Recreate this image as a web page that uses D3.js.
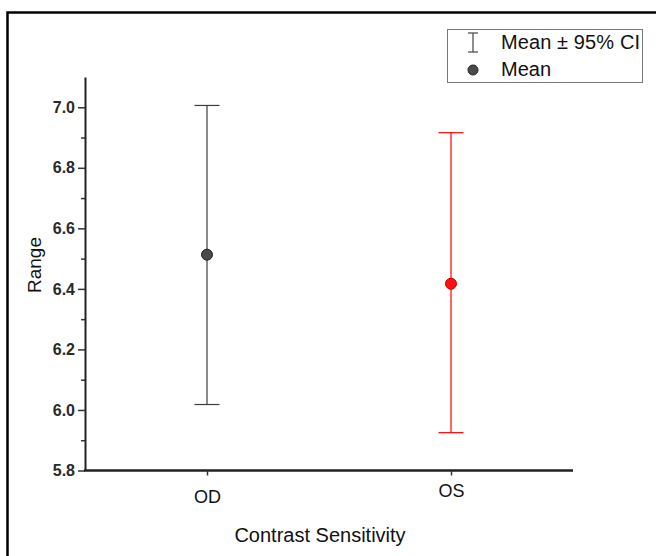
<!DOCTYPE html>
<html>
<head>
<meta charset="utf-8">
<script src="https://cdn.jsdelivr.net/npm/d3@7"></script>
<style>
  body { margin: 0; background: #fff; }
  text { font-family: "Liberation Sans", Arial, sans-serif; }
</style>
</head>
<body>
<div id="vis"></div>
<script>
// datos
const categories = ["OD", "OS"];
const means = [6.513, 6.417];
const upper = [7.006, 6.916];
const lower = [6.018, 5.925];
const colors = ["#3c3c3c", "#ff0000"];
const yTicks = [5.8, 6.0, 6.2, 6.4, 6.6, 6.8, 7.0];
const yMinorTicks = [5.9, 6.1, 6.3, 6.5, 6.7, 6.9];

const width = 656, height = 556;

const svg = d3.select("#vis").append("svg")
  .attr("width", width)
  .attr("height", height);

// marco exterior
svg.append("rect")
  .attr("x", 7.5).attr("y", 12.5)
  .attr("width", 700).attr("height", 600)
  .attr("fill", "none")
  .attr("stroke", "#000")
  .attr("stroke-width", 2.5);

const x = d3.scalePoint()
  .domain(categories)
  .range([85, 573])
  .padding(0.5);

const y = d3.scaleLinear()
  .domain([5.8, 7.1])
  .range([470.5, 77]);

// eje y menor
svg.append("g")
  .attr("transform", "translate(85,0)")
  .call(d3.axisLeft(y).tickValues(yMinorTicks).tickSize(4).tickFormat(""))
  .call(g => g.select(".domain").remove())
  .selectAll("line").attr("stroke", "#333").attr("stroke-width", 1.5);

// eje y
const yAxis = svg.append("g")
  .attr("transform", "translate(85,0)")
  .call(d3.axisLeft(y).tickValues(yTicks).tickSize(7).tickSizeOuter(0).tickPadding(3).tickFormat(d3.format(".1f")));
yAxis.select(".domain").attr("stroke", "#222").attr("stroke-width", 2);
yAxis.selectAll(".tick line").attr("stroke", "#333").attr("stroke-width", 1.5);
yAxis.selectAll("text")
  .attr("font-size", 16)
  .attr("font-weight", "bold")
  .attr("fill", "#2a2a2a");

// eje x
const xAxis = svg.append("g")
  .attr("transform", "translate(0,470.5)")
  .call(d3.axisBottom(x).tickSize(5).tickSizeOuter(0).tickPadding(12));
xAxis.select(".domain").attr("stroke", "#222").attr("stroke-width", 2.5)
  .attr("d", "M84,0H573");
xAxis.selectAll(".tick line").attr("stroke", "#333").attr("stroke-width", 1.5);
xAxis.selectAll("text")
  .attr("font-size", 18)
  .attr("fill", "#111")
  .attr("dy", (d, i) => i === 0 ? "0.85em" : "0.5em");

// barras de error
const capW = 12.5;
const bars = svg.append("g").selectAll("g")
  .data(categories)
  .enter().append("g");

bars.append("line")
  .attr("x1", d => x(d)).attr("x2", d => x(d))
  .attr("y1", (d, i) => y(upper[i]))
  .attr("y2", (d, i) => y(lower[i]))
  .attr("stroke", (d, i) => colors[i])
  .attr("stroke-width", 1.2);

bars.append("line")
  .attr("x1", d => x(d) - capW).attr("x2", d => x(d) + capW)
  .attr("y1", (d, i) => y(upper[i])).attr("y2", (d, i) => y(upper[i]))
  .attr("stroke", (d, i) => colors[i])
  .attr("stroke-width", 1.2);

bars.append("line")
  .attr("x1", d => x(d) - capW).attr("x2", d => x(d) + capW)
  .attr("y1", (d, i) => y(lower[i])).attr("y2", (d, i) => y(lower[i]))
  .attr("stroke", (d, i) => colors[i])
  .attr("stroke-width", 1.2);

// medias
bars.append("circle")
  .attr("cx", d => x(d))
  .attr("cy", (d, i) => y(means[i]))
  .attr("r", 5.5)
  .attr("fill", (d, i) => i === 0 ? "#4a4a4a" : "#ff1010")
  .attr("stroke", (d, i) => i === 0 ? "#222" : "#cc0000")
  .attr("stroke-width", 1);

// titulos de ejes
svg.append("text")
  .attr("x", 320).attr("y", 542)
  .attr("text-anchor", "middle")
  .attr("font-size", 20)
  .attr("fill", "#111")
  .text("Contrast Sensitivity");

svg.append("text")
  .attr("transform", "translate(41,265) rotate(-90)")
  .attr("text-anchor", "middle")
  .attr("font-size", 19)
  .attr("fill", "#111")
  .text("Range");

// leyenda
const legend = svg.append("g");
legend.append("rect")
  .attr("x", 447.5).attr("y", 29.5)
  .attr("width", 195).attr("height", 53)
  .attr("fill", "#fff")
  .attr("stroke", "#777")
  .attr("stroke-width", 1);

legend.append("line")
  .attr("x1", 473).attr("x2", 473).attr("y1", 33).attr("y2", 52)
  .attr("stroke", "#444").attr("stroke-width", 1.2);
legend.append("line")
  .attr("x1", 468).attr("x2", 478).attr("y1", 33).attr("y2", 33)
  .attr("stroke", "#444").attr("stroke-width", 1.2);
legend.append("line")
  .attr("x1", 468).attr("x2", 478).attr("y1", 52).attr("y2", 52)
  .attr("stroke", "#444").attr("stroke-width", 1.2);
legend.append("circle")
  .attr("cx", 473).attr("cy", 70).attr("r", 5)
  .attr("fill", "#4a4a4a").attr("stroke", "#222");

legend.append("text")
  .attr("x", 501).attr("y", 49)
  .attr("font-size", 20).attr("fill", "#111")
  .attr("textLength", 139)
  .text("Mean \u00b1 95% CI");
legend.append("text")
  .attr("x", 501).attr("y", 76)
  .attr("font-size", 20).attr("fill", "#111")
  .text("Mean");
</script>
</body>
</html>
